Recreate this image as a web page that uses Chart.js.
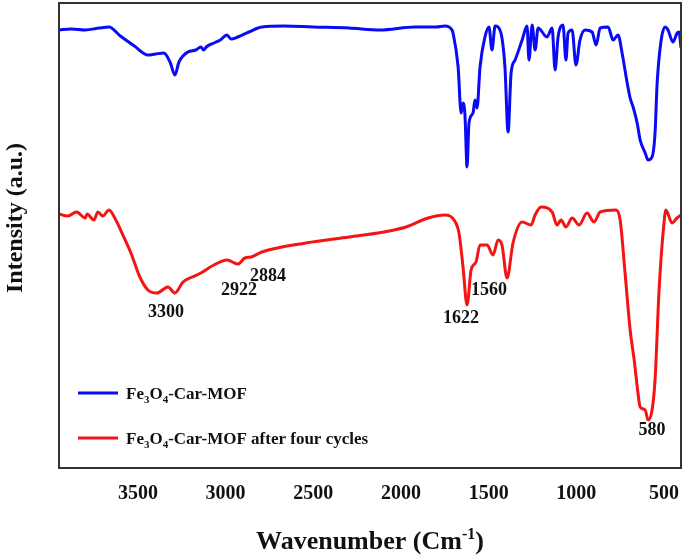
<!DOCTYPE html>
<html>
<head>
<meta charset="utf-8">
<script src="https://cdn.jsdelivr.net/npm/chart.js@4.4.1/dist/chart.umd.min.js"></script>
<style>
  html, body { margin: 0; padding: 0; background: #fff; }
  #wrap { width: 685px; height: 555px; }
</style>
</head>
<body>
<div id="wrap"><canvas id="ftir"></canvas></div>
<script>
// ---- DATA (wavenumber in cm-1, intensity in a.u.) ----
const blueWn = [3950, 3880, 3800, 3720, 3665, 3600, 3520, 3443, 3400, 3352, 3317, 3289, 3266, 3215, 3170, 3141, 3125, 3110, 3067, 3030, 2992, 2969, 2930, 2867, 2793, 2667, 2500, 2296, 2120, 1920, 1800, 1749, 1709, 1703, 1674, 1657, 1646, 1635, 1623, 1612, 1589, 1578, 1566, 1549, 1521, 1498, 1481, 1463, 1446, 1424, 1407, 1389, 1372, 1349, 1309, 1281, 1270, 1252, 1235, 1218, 1167, 1138, 1121, 1104, 1076, 1059, 1047, 1024, 1002, 979, 950, 910, 887, 864, 819, 790, 762, 739, 710, 693, 676, 653, 636, 607, 591, 568, 551, 539, 516, 494, 477, 449, 425, 414, 403];
const blueVal = [438, 439, 438, 440, 441, 432, 422, 413, 414, 415, 406, 393, 406, 416, 418, 421, 418, 421, 425, 428, 433, 429, 431, 436, 441, 442, 441, 440, 438, 441, 441, 442, 438, 435, 401, 355, 365, 353, 301, 345, 355, 368, 360, 401, 431, 441, 418, 442, 441, 430, 401, 336, 395, 408, 428, 442, 408, 443, 418, 440, 431, 440, 398, 431, 443, 408, 435, 438, 403, 428, 438, 436, 423, 440, 441, 428, 433, 415, 385, 370, 361, 345, 328, 315, 308, 311, 335, 385, 428, 441, 438, 426, 435, 436, 420];

const redWn = [3950, 3900, 3850, 3800, 3790, 3751, 3728, 3700, 3665, 3626, 3591, 3540, 3489, 3443, 3392, 3329, 3289, 3243, 3190, 3141, 3067, 2992, 2930, 2890, 2855, 2793, 2542, 2296, 2097, 1971, 1846, 1749, 1697, 1669, 1646, 1623, 1600, 1572, 1549, 1509, 1475, 1446, 1424, 1395, 1361, 1309, 1258, 1235, 1201, 1138, 1110, 1087, 1059, 1024, 984, 939, 899, 864, 773, 750, 722, 693, 670, 647, 636, 607, 591, 568, 551, 528, 500, 489, 454, 426, 403];
const redVal = [254, 252, 256, 250, 254, 248, 256, 252, 258, 248, 235, 215, 191, 178, 175, 181, 175, 186, 191, 195, 203, 208, 204, 210, 211, 216, 225, 231, 236, 241, 250, 253, 248, 235, 201, 163, 198, 206, 223, 223, 213, 228, 223, 190, 225, 246, 243, 253, 261, 256, 243, 248, 241, 250, 243, 255, 246, 256, 258, 248, 195, 138, 108, 73, 61, 58, 48, 58, 88, 178, 245, 258, 245, 250, 253];

const xTicks = [3500, 3000, 2500, 2000, 1500, 1000, 500];

const peakLabels = ['3300', '2922', '2884', '1622', '1560', '580'];
const peakWn = [3340, 2924, 2758, 1657, 1498, 568];
const peakVal = [156, 178, 192, 150, 178, 38];

const seriesNames = [
  [['Fe', 0], ['3', 1], ['O', 0], ['4', 1], ['-Car-MOF', 0]],
  [['Fe', 0], ['3', 1], ['O', 0], ['4', 1], ['-Car-MOF after four cycles', 0]]
];
const seriesColors = ['#0a0af5', '#f41414'];

const SERIF = '"Liberation Serif", "Times New Roman", serif';

function toPoints(xs, ys) {
  return xs.map((x, i) => ({ x: x, y: ys[i] }));
}

// draw a run of [text, isSmall] parts starting at x
function drawParts(ctx, parts, x, y, size, sup) {
  parts.forEach(([t, small]) => {
    if (small) {
      ctx.font = 'bold ' + Math.round(size * 0.62) + 'px ' + SERIF;
      const dy = sup ? -size * 0.38 : size * 0.25;
      ctx.fillText(t, x, y + dy);
    } else {
      ctx.font = 'bold ' + size + 'px ' + SERIF;
      ctx.fillText(t, x, y);
    }
    x += ctx.measureText(t).width;
  });
  return x;
}

function partsWidth(ctx, parts, size) {
  let w = 0;
  parts.forEach(([t, small]) => {
    ctx.font = 'bold ' + (small ? Math.round(size * 0.62) : size) + 'px ' + SERIF;
    w += ctx.measureText(t).width;
  });
  return w;
}

const decorations = {
  id: 'decorations',
  afterDraw(chart) {
    const ctx = chart.ctx;
    const a = chart.chartArea;
    const xs = chart.scales.x, ys = chart.scales.y;
    ctx.save();

    // frame
    ctx.strokeStyle = '#333';
    ctx.lineWidth = 2;
    ctx.strokeRect(a.left, a.top, a.right - a.left, a.bottom - a.top);

    ctx.fillStyle = '#111';

    // peak labels
    ctx.textAlign = 'center';
    ctx.textBaseline = 'middle';
    ctx.font = 'bold 18px ' + SERIF;
    peakLabels.forEach((t, i) => {
      ctx.fillText(t, xs.getPixelForValue(peakWn[i]), ys.getPixelForValue(peakVal[i]));
    });

    // legend
    ctx.textAlign = 'left';
    ctx.textBaseline = 'alphabetic';
    seriesNames.forEach((parts, i) => {
      const ly = 393 + i * 45;
      ctx.strokeStyle = seriesColors[i];
      ctx.lineWidth = 3;
      ctx.beginPath();
      ctx.moveTo(78, ly);
      ctx.lineTo(118, ly);
      ctx.stroke();
      drawParts(ctx, parts, 126, ly + 6, 17, false);
    });

    // x axis title with superscript
    const titleParts = [['Wavenumber (Cm', 0], ['-1', 1], [')', 0]];
    const tw = partsWidth(ctx, titleParts, 26);
    drawParts(ctx, titleParts, (a.left + a.right) / 2 - tw / 2, 549, 26, true);

    // y axis title
    ctx.translate(16, 218);
    ctx.rotate(-Math.PI / 2);
    ctx.textAlign = 'center';
    ctx.textBaseline = 'middle';
    ctx.font = 'bold 24px ' + SERIF;
    ctx.fillText('Intensity (a.u.)', 0, 0);

    ctx.restore();
  }
};

new Chart(document.getElementById('ftir'), {
  type: 'line',
  data: {
    datasets: [
      {
        label: 'Fe3O4-Car-MOF',
        data: toPoints(blueWn, blueVal),
        borderColor: seriesColors[0],
        borderWidth: 3,
        pointRadius: 0,
        cubicInterpolationMode: 'monotone'
      },
      {
        label: 'Fe3O4-Car-MOF after four cycles',
        data: toPoints(redWn, redVal),
        borderColor: seriesColors[1],
        borderWidth: 3,
        pointRadius: 0,
        cubicInterpolationMode: 'monotone'
      }
    ]
  },
  options: {
    responsive: true,
    maintainAspectRatio: false,
    animation: false,
    layout: { padding: { left: 59, right: 4, top: 3, bottom: 0 } },
    plugins: {
      legend: { display: false },
      tooltip: { enabled: false }
    },
    scales: {
      x: {
        type: 'linear',
        reverse: true,
        min: 403,
        max: 3950,
        grid: { display: false, drawTicks: false },
        border: { display: false },
        afterBuildTicks: s => { s.ticks = xTicks.map(v => ({ value: v })); },
        afterFit: s => { s.height = 87; s.paddingLeft = 0; s.paddingRight = 0; },
        ticks: {
          color: '#111',
          padding: 14,
          maxRotation: 0,
          callback: v => String(v),
          font: { family: SERIF, size: 20, weight: 'bold' }
        }
      },
      y: {
        display: false,
        min: 0,
        max: 465
      }
    }
  },
  plugins: [decorations]
});
</script>
</body>
</html>
